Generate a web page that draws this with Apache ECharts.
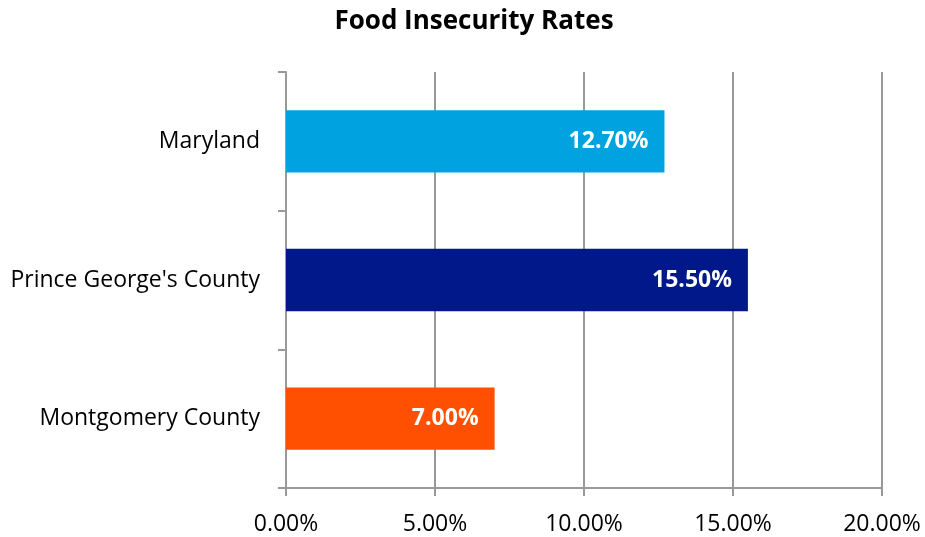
<!DOCTYPE html>
<html>
<head>
<meta charset="utf-8">
<script src="https://cdn.jsdelivr.net/npm/echarts@6/dist/echarts.min.js"></script>
<style>
  html, body { margin: 0; padding: 0; background: #fff; }
  #chart { width: 925px; height: 537px; }
</style>
</head>
<body>
<div id="chart"></div>
<script>
// Food insecurity rates by area, in percent (listed top to bottom)
const categories = ['Maryland', "Prince George's County", 'Montgomery County'];
const rates = [12.7, 15.5, 7.0];
const barColors = ['#00A3E0', '#00188A', '#FF4F00'];
const xTicks = { min: 0, max: 20, interval: 5 };

const fontFamily = '"Open Sans", sans-serif';
const gridGray = '#999999';

const chart = echarts.init(document.getElementById('chart'));
chart.setOption({
  animation: false,
  title: {
    text: 'Food Insecurity Rates',
    left: 469,
    textAlign: 'center',
    top: 4,
    textStyle: { fontFamily, fontSize: 26, fontWeight: 'bold', color: '#000' }
  },
  grid: { left: 286, right: 43, top: 72, bottom: 49 },
  xAxis: {
    type: 'value',
    min: xTicks.min,
    max: xTicks.max,
    interval: xTicks.interval,
    axisLine: { show: true, lineStyle: { color: gridGray, width: 2 } },
    axisTick: { show: true, length: 8, lineStyle: { color: gridGray, width: 2 } },
    splitLine: { show: true, lineStyle: { color: gridGray, width: 2 } },
    axisLabel: {
      margin: 25,
      fontFamily, fontSize: 23, color: '#000',
      formatter: v => v.toFixed(2) + '%'
    }
  },
  yAxis: {
    type: 'category',
    data: categories,
    inverse: true,
    axisLine: { show: true, lineStyle: { color: gridGray, width: 2 } },
    axisTick: { show: true, length: 8, lineStyle: { color: gridGray, width: 2 } },
    axisLabel: { margin: 26, fontFamily, fontSize: 23, color: '#000' }
  },
  series: [{
    type: 'bar',
    data: rates.map((v, i) => ({ value: v, itemStyle: { color: barColors[i] } })),
    barCategoryGap: '55%',
    label: {
      show: true,
      position: 'insideRight',
      distance: 16,
      color: '#fff',
      fontFamily, fontSize: 23, fontWeight: 'bold',
      formatter: p => p.value.toFixed(2) + '%'
    }
  }]
});
</script>
</body>
</html>
